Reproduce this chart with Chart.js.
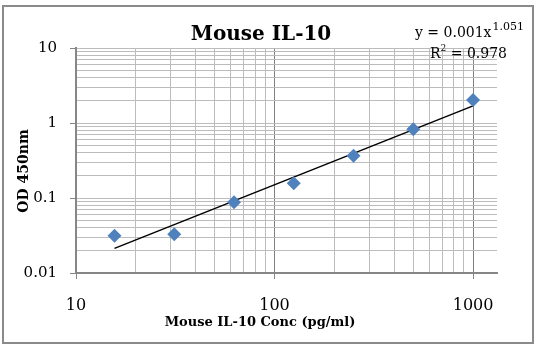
<!DOCTYPE html>
<html>
<head>
<meta charset="utf-8">
<script src="https://cdn.jsdelivr.net/npm/chart.js@4"></script>
<style>
  html, body { margin: 0; padding: 0; background: #fff; }
  #wrap { width: 539px; height: 350px; position: relative; }
</style>
</head>
<body>
<div id="wrap"><canvas id="c" width="539" height="350"></canvas></div>
<script>
// ---- data ----
const concentrations = [15.625, 31.25, 62.5, 125, 250, 500, 1000];   // pg/ml
const odValues       = [0.0314, 0.0328, 0.0877, 0.157, 0.366, 0.824, 2.03];
const trendX         = [15.625, 1000];
const trendY         = [0.0213, 1.69];
const xTickValues    = [10,20,30,40,50,60,70,80,90,100,200,300,400,500,600,700,800,900,1000];
const yTickValues    = [0.01,0.02,0.03,0.04,0.05,0.06,0.07,0.08,0.09,0.1,0.2,0.3,0.4,0.5,0.6,0.7,0.8,0.9,1,2,3,4,5,6,7,8,9,10];
const xLabels        = ['10','100','1000'];
const yLabels        = ['0.01','0.1','1','10'];
const chartTitle     = 'Mouse IL-10';
const equationMain   = 'y = 0.001x';
const equationExp    = '1.051';
const rSquaredText   = ' = 0.978';
const xTitle         = 'Mouse IL-10 Conc (pg/ml)';
const yTitle         = 'OD 450nm';

const SERIF = "'DejaVu Serif', 'Liberation Serif', serif";

function isDecade(v) {
  const l = Math.log10(v);
  return Math.abs(l - Math.round(l)) < 1e-6;
}
function fmt(v) {
  return String(+v.toPrecision(6));
}

const decorPlugin = {
  id: 'decor',
  beforeDraw(chart) {
    const ctx = chart.ctx;
    ctx.save();
    ctx.fillStyle = '#fff';
    ctx.fillRect(0, 0, chart.width, chart.height);
    ctx.restore();
  },
  afterDraw(chart) {
    const ctx = chart.ctx;
    ctx.save();
    // outer frame
    ctx.strokeStyle = '#8a8a8a';
    ctx.lineWidth = 2;
    ctx.strokeRect(3, 6, 530, 337);
    // title
    ctx.fillStyle = '#000';
    ctx.font = "bold 20px " + SERIF;
    ctx.textAlign = 'center';
    ctx.textBaseline = 'alphabetic';
    ctx.fillText(chartTitle, 261, 40);
    // equation
    ctx.font = "14px " + SERIF;
    ctx.textAlign = 'left';
    ctx.fillText(equationMain, 415, 37);
    const w1 = ctx.measureText(equationMain).width;
    ctx.font = "11px " + SERIF;
    ctx.fillText(equationExp, 415 + w1 + 1, 30);
    // R^2
    ctx.font = "14px " + SERIF;
    ctx.fillText('R', 430, 58);
    const wr = ctx.measureText('R').width;
    ctx.font = "9px " + SERIF;
    ctx.fillText('2', 430 + wr, 51);
    const w2 = ctx.measureText('2').width;
    ctx.font = "14px " + SERIF;
    ctx.fillText(rSquaredText, 430 + wr + w2, 58);
    // x axis title
    ctx.font = "bold 13px " + SERIF;
    ctx.textAlign = 'center';
    ctx.textBaseline = 'middle';
    ctx.fillText(xTitle, 260, 323);
    // y axis title
    ctx.translate(24, 171);
    ctx.rotate(-Math.PI / 2);
    ctx.font = "bold 14px " + SERIF;
    ctx.fillText(yTitle, 0, 0);
    ctx.restore();
  }
};

new Chart(document.getElementById('c'), {
  type: 'scatter',
  data: {
    datasets: [
      {
        label: 'OD',
        data: concentrations.map((x, i) => ({ x: x, y: odValues[i] })),
        backgroundColor: '#4f81bd',
        borderColor: '#4f81bd',
        borderWidth: 0,
        pointStyle: 'rectRot',
        pointRadius: 7,
        order: 1
      },
      {
        label: 'Trend',
        data: trendX.map((x, i) => ({ x: x, y: trendY[i] })),
        showLine: true,
        borderColor: '#000',
        borderWidth: 1.5,
        pointRadius: 0,
        order: 2
      }
    ]
  },
  options: {
    responsive: false,
    animation: false,
    devicePixelRatio: 1,
    layout: { padding: { top: 48, right: 42, left: 0, bottom: 0 } },
    plugins: {
      legend: { display: false },
      tooltip: { enabled: false },
      title: { display: false }
    },
    scales: {
      x: {
        type: 'logarithmic',
        min: 10,
        max: 1320,
        afterBuildTicks(scale) {
          scale.ticks = xTickValues.map(v => ({ value: v, major: isDecade(v) }));
        },
        afterFit(scale) { scale.height = 77; },
        ticks: {
          autoSkip: false,
          maxRotation: 0,
          padding: 17,
          color: '#000',
          font: { family: SERIF, size: 16 },
          callback(v) { const s = fmt(v); return xLabels.includes(s) ? s : ''; }
        },
        grid: {
          color: (c) => (c.tick && isDecade(c.tick.value)) ? '#808080' : '#bcbcbc',
          tickColor: (c) => (c.tick && isDecade(c.tick.value)) ? '#868686' : 'rgba(0,0,0,0)',
          tickLength: 6,
          lineWidth: 1
        },
        border: { color: '#868686', width: 2 },
        title: { display: false }
      },
      y: {
        type: 'logarithmic',
        min: 0.01,
        max: 10,
        afterBuildTicks(scale) {
          scale.ticks = yTickValues.map(v => ({ value: v, major: isDecade(v) }));
        },
        afterFit(scale) { scale.width = 76; },
        ticks: {
          autoSkip: false,
          padding: 13,
          color: '#000',
          font: { family: SERIF, size: 15 },
          callback(v) { const s = fmt(v); return yLabels.includes(s) ? s : ''; }
        },
        grid: {
          color: '#bcbcbc',
          tickColor: (c) => (c.tick && isDecade(c.tick.value)) ? '#868686' : 'rgba(0,0,0,0)',
          tickLength: 6,
          lineWidth: 1
        },
        border: { color: '#868686', width: 2 }
      }
    }
  },
  plugins: [decorPlugin]
});
</script>
</body>
</html>
